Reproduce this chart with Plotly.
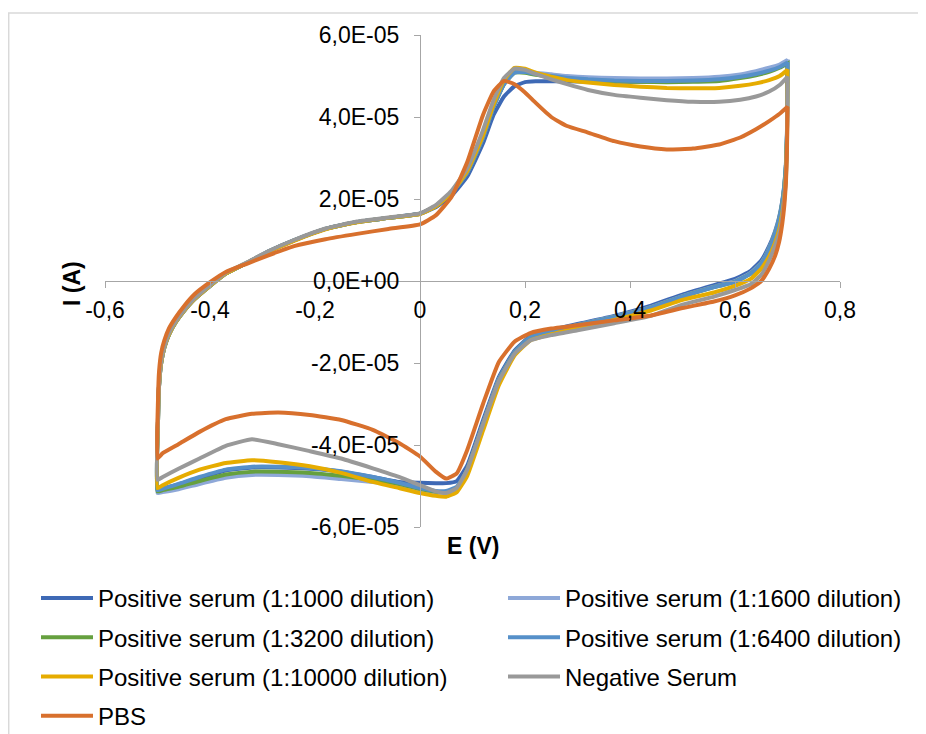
import plotly.graph_objects as go

# ---------------- data (current in units of 1e-5 A) ----------------
E_FWD = [-0.5, -0.499, -0.497, -0.493, -0.487, -0.478, -0.465, -0.45, -0.43, -0.40,
         -0.37, -0.33, -0.29, -0.24, -0.18, -0.12, -0.06, 0.0, 0.03, 0.06,
         0.09, 0.12, 0.14, 0.16, 0.18, 0.2, 0.22, 0.25, 0.28, 0.32,
         0.37, 0.42, 0.47, 0.52, 0.57, 0.61, 0.64, 0.665, 0.685, 0.7]
E_REV = [0.7, 0.699, 0.697, 0.694, 0.69, 0.684, 0.676, 0.665, 0.65, 0.63,
         0.6, 0.56, 0.5, 0.44, 0.37, 0.3, 0.25, 0.21, 0.18, 0.15,
         0.12, 0.09, 0.07, 0.05, 0.03, 0.0, -0.04, -0.09, -0.15, -0.21,
         -0.27, -0.32, -0.37, -0.42, -0.46, -0.49, -0.5]

I_FWD_1000 = [-5.1, -3.4, -2.55, -2.0, -1.62, -1.3, -1.0, -0.74, -0.45, -0.12,
              0.18, 0.44, 0.71, 0.99, 1.27, 1.44, 1.54, 1.64, 1.8, 2.08,
              2.55, 3.36, 4.05, 4.5, 4.75, 4.85, 4.87, 4.87, 4.87, 4.86,
              4.86, 4.86, 4.87, 4.88, 4.92, 5.0, 5.08, 5.15, 5.22, 5.32]
I_REV_1000 = [5.32, 3.6, 2.85, 2.35, 1.95, 1.55, 1.2, 0.85, 0.5, 0.25,
              0.05, -0.1, -0.33, -0.6, -0.85, -1.05, -1.2, -1.35, -1.7, -2.35,
              -3.4, -4.5, -4.88, -4.93, -4.93, -4.92, -4.9, -4.78, -4.65, -4.58,
              -4.55, -4.55, -4.62, -4.8, -4.96, -5.06, -5.1]

I_FWD_1600 = [-5.17, -3.4, -2.55, -2.0, -1.62, -1.3, -1.0, -0.74, -0.45, -0.12,
              0.18, 0.44, 0.71, 0.99, 1.27, 1.44, 1.54, 1.64, 1.83, 2.15,
              2.65, 3.5, 4.25, 4.8, 5.1, 5.12, 5.08, 5.04, 5.0, 4.97,
              4.95, 4.94, 4.94, 4.95, 4.98, 5.04, 5.12, 5.2, 5.28, 5.39]
I_REV_1600 = [5.39, 3.6, 2.85, 2.35, 1.92, 1.52, 1.17, 0.8, 0.44, 0.2,
              0.0, -0.14, -0.37, -0.64, -0.87, -1.07, -1.21, -1.37, -1.74, -2.4,
              -3.48, -4.6, -5.06, -5.16, -5.16, -5.1, -4.98, -4.9, -4.83, -4.76,
              -4.73, -4.73, -4.8, -4.95, -5.08, -5.15, -5.17]

I_FWD_3200 = [-5.13, -3.4, -2.55, -2.0, -1.62, -1.3, -1.0, -0.74, -0.45, -0.12,
              0.18, 0.44, 0.71, 0.99, 1.27, 1.44, 1.54, 1.64, 1.83, 2.15,
              2.65, 3.5, 4.25, 4.8, 5.08, 5.08, 5.03, 4.98, 4.94, 4.9,
              4.87, 4.86, 4.85, 4.86, 4.88, 4.95, 5.02, 5.1, 5.2, 5.3]
I_REV_3200 = [5.3, 3.55, 2.8, 2.3, 1.9, 1.5, 1.15, 0.78, 0.42, 0.18,
              -0.02, -0.15, -0.38, -0.65, -0.88, -1.08, -1.22, -1.38, -1.75, -2.42,
              -3.5, -4.6, -5.05, -5.14, -5.14, -5.07, -4.95, -4.85, -4.75, -4.68,
              -4.65, -4.65, -4.72, -4.88, -5.02, -5.1, -5.13]

I_FWD_6400 = [-5.1, -3.4, -2.55, -2.0, -1.62, -1.3, -1.0, -0.74, -0.45, -0.12,
              0.18, 0.44, 0.71, 0.99, 1.27, 1.44, 1.54, 1.64, 1.83, 2.15,
              2.65, 3.5, 4.25, 4.8, 5.08, 5.1, 5.05, 5.0, 4.96, 4.92,
              4.89, 4.88, 4.88, 4.89, 4.92, 4.98, 5.05, 5.13, 5.22, 5.33]
I_REV_6400 = [5.33, 3.55, 2.8, 2.3, 1.9, 1.5, 1.15, 0.78, 0.42, 0.18,
              -0.02, -0.15, -0.38, -0.65, -0.88, -1.08, -1.22, -1.38, -1.75, -2.42,
              -3.5, -4.6, -5.02, -5.12, -5.12, -5.05, -4.92, -4.78, -4.64, -4.56,
              -4.53, -4.53, -4.6, -4.78, -4.95, -5.07, -5.1]

I_FWD_10000 = [-5.05, -3.4, -2.55, -2.0, -1.62, -1.3, -1.0, -0.74, -0.45, -0.12,
               0.18, 0.44, 0.7, 0.98, 1.26, 1.43, 1.54, 1.63, 1.82, 2.15,
               2.68, 3.55, 4.3, 4.9, 5.2, 5.18, 5.08, 4.98, 4.9, 4.84,
               4.78, 4.74, 4.71, 4.7, 4.71, 4.76, 4.82, 4.9, 5.0, 5.15]
I_REV_10000 = [5.15, 3.4, 2.6, 2.05, 1.65, 1.25, 0.92, 0.6, 0.3, 0.05,
               -0.12, -0.28, -0.46, -0.72, -0.95, -1.15, -1.3, -1.45, -1.82, -2.55,
               -3.65, -4.75, -5.15, -5.26, -5.24, -5.17, -5.05, -4.9, -4.68, -4.52,
               -4.42, -4.37, -4.44, -4.6, -4.8, -4.98, -5.05]

I_FWD_NEG = [-4.85, -3.3, -2.5, -1.95, -1.6, -1.27, -0.98, -0.72, -0.43, -0.1,
             0.2, 0.45, 0.72, 1.0, 1.28, 1.45, 1.55, 1.65, 1.85, 2.2,
             2.75, 3.68, 4.41, 4.95, 5.18, 5.15, 5.05, 4.92, 4.8, 4.66,
             4.54, 4.47, 4.41, 4.37, 4.37, 4.42, 4.5, 4.62, 4.78, 4.98]
I_REV_NEG = [4.98, 3.3, 2.5, 2.0, 1.55, 1.15, 0.85, 0.5, 0.15, -0.08,
             -0.22, -0.38, -0.58, -0.85, -1.03, -1.2, -1.32, -1.45, -1.78, -2.45,
             -3.5, -4.6, -5.05, -5.17, -5.13, -4.98, -4.78, -4.57, -4.33, -4.15,
             -3.98, -3.86, -4.02, -4.33, -4.58, -4.78, -4.85]

I_FWD_PBS = [-4.33, -2.9, -2.2, -1.75, -1.45, -1.15, -0.88, -0.62, -0.33, -0.03,
             0.22, 0.42, 0.62, 0.85, 1.02, 1.15, 1.27, 1.38, 1.6, 2.05,
             2.9, 4.05, 4.62, 4.88, 4.8, 4.6, 4.35, 4.0, 3.78, 3.62,
             3.41, 3.28, 3.21, 3.23, 3.33, 3.5, 3.7, 3.9, 4.08, 4.25]
I_REV_PBS = [4.25, 3.2, 2.4, 1.85, 1.4, 0.95, 0.6, 0.3, 0.0, -0.18,
             -0.35, -0.5, -0.66, -0.84, -0.96, -1.08, -1.16, -1.27, -1.48, -1.98,
             -3.0, -4.12, -4.69, -4.82, -4.65, -4.28, -3.95, -3.63, -3.39, -3.27,
             -3.21, -3.24, -3.37, -3.68, -3.98, -4.2, -4.33]

SERIES_NAMES = ["Positive serum (1:1000 dilution)", "Positive serum (1:1600 dilution)",
                "Positive serum (1:3200 dilution)", "Positive serum (1:6400 dilution)",
                "Positive serum (1:10000 dilution)", "Negative Serum", "PBS"]
SERIES_FWD = [I_FWD_1000, I_FWD_1600, I_FWD_3200, I_FWD_6400, I_FWD_10000, I_FWD_NEG, I_FWD_PBS]
SERIES_REV = [I_REV_1000, I_REV_1600, I_REV_3200, I_REV_6400, I_REV_10000, I_REV_NEG, I_REV_PBS]
SERIES_COLORS = ["#3E69B5", "#8EA8D8", "#66A03F", "#5690C9", "#E6AC00", "#999999", "#D8702D"]
SERIES_LEGEND = ["legend", "legend2", "legend", "legend2", "legend", "legend2", "legend"]

X_TICKS = [-0.6, -0.4, -0.2, 0.0, 0.2, 0.4, 0.6, 0.8]
X_TICKTEXT = ["-0,6", "-0,4", "-0,2", "0", "0,2", "0,4", "0,6", "0,8"]
Y_TICKS = [-6e-5, -4e-5, -2e-5, 0.0, 2e-5, 4e-5, 6e-5]
Y_TICKTEXT = ["-6,0E-05", "-4,0E-05", "-2,0E-05", "0,0E+00", "2,0E-05", "4,0E-05", "6,0E-05"]
UNIT = 1e-5

# ---------------- figure ----------------
FONT = "Arial, 'Liberation Sans', sans-serif"
OFF = 8                      # page body margin
W, H = 926 - OFF, 734 - OFF
PL, PR, PT, PB = 105, 840, 35, 527   # plot area in screen pixels
ML, MT = PL - OFF, PT - OFF
MR, MB = W - (PR - OFF), H - (PB - OFF)
PW, PH = PR - PL, PB - PT


def px_x(p):
    return (p - PL) / PW


def px_y(p):
    return (PB - p) / PH


fig = go.Figure()
for i, name in enumerate(SERIES_NAMES):
    xs = E_FWD + E_REV
    ys = [v * UNIT for v in SERIES_FWD[i] + SERIES_REV[i]]
    fig.add_trace(go.Scatter(
        x=xs, y=ys, mode="lines", name=name,
        line=dict(color=SERIES_COLORS[i], width=4, shape="spline", smoothing=0.4),
        legend=SERIES_LEGEND[i], legendgroup=name,
    ))

xmin, xmax = X_TICKS[0], X_TICKS[-1]
ypos = (0 - xmin) / (xmax - xmin)

axis_common = dict(showgrid=False, zeroline=False, showline=True, linecolor="#A6A6A6",
                   linewidth=1.2, ticks="outside", ticklen=6, tickcolor="#A6A6A6",
                   tickfont=dict(family=FONT, size=23, color="#000000"))

legend_common = dict(xanchor="left", yanchor="top", orientation="v", tracegroupgap=5,
                     bgcolor="rgba(0,0,0,0)", itemwidth=52,
                     font=dict(family=FONT, size=24, color="#000000"))

fig.update_layout(
    width=W, height=H,
    margin=dict(l=ML, r=MR, t=MT, b=MB, autoexpand=False),
    paper_bgcolor="white", plot_bgcolor="white",
    font=dict(family=FONT, size=23, color="#000000"),
    xaxis=dict(range=[xmin, xmax], tickvals=X_TICKS, ticktext=X_TICKTEXT,
               anchor="free", position=0.5, ticklabelstandoff=2, **axis_common),
    yaxis=dict(range=[Y_TICKS[0], Y_TICKS[-1]], tickvals=Y_TICKS, ticktext=Y_TICKTEXT,
               anchor="free", position=ypos, ticklabelstandoff=10, **axis_common),
    legend=dict(x=px_x(36), y=px_y(576), **legend_common),
    legend2=dict(x=px_x(503), y=px_y(576), **legend_common),
    showlegend=True,
    shapes=[dict(type="rect", xref="paper", yref="paper",
                 x0=px_x(8.7), x1=px_x(960), y0=px_y(13), y1=px_y(780),
                 line=dict(color="#D9D9D9", width=1.5), fillcolor="rgba(0,0,0,0)", layer="below")],
    annotations=[
        dict(text="<b>E (V)</b>", xref="paper", yref="paper", x=px_x(473), y=px_y(546),
             xanchor="center", yanchor="middle",
             showarrow=False, font=dict(family=FONT, size=23, color="#000000")),
        dict(text="<b>I (A)</b>", xref="paper", yref="paper", x=px_x(72), y=px_y(284),
             xanchor="center", yanchor="middle",
             showarrow=False, textangle=-90, font=dict(family=FONT, size=23, color="#000000")),
    ],
)

fig.write_html("out.html")
